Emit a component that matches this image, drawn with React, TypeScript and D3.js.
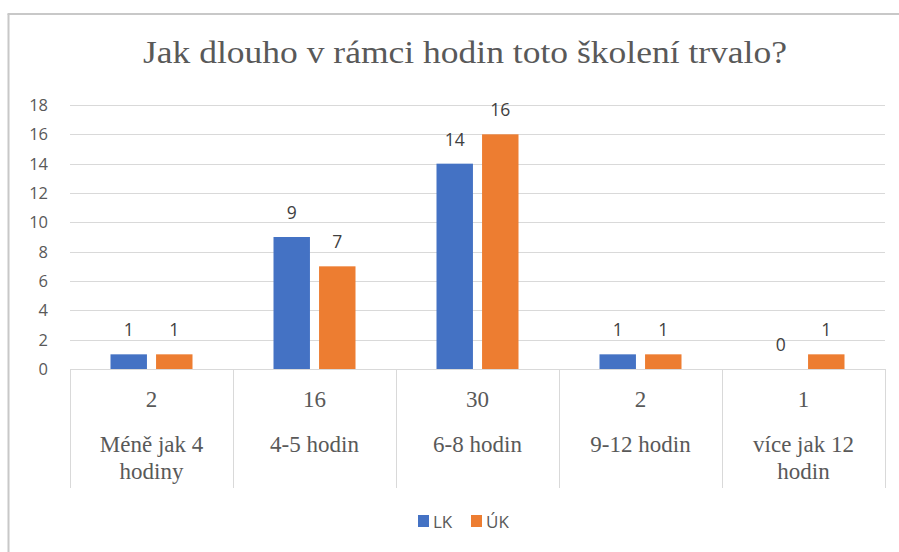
import React from "react";
import * as d3 from "d3";

const title = "Jak dlouho v rámci hodin toto školení trvalo?";
const categories = ["Méně jak 4 hodiny", "4-5 hodin", "6-8 hodin", "9-12 hodin", "více jak 12 hodin"];
const categoryLines = [["Méně jak 4", "hodiny"], ["4-5 hodin"], ["6-8 hodin"], ["9-12 hodin"], ["více jak 12", "hodin"]];
const totals = [2, 16, 30, 2, 1];
const seriesNames = ["LK", "ÚK"];
const lkValues = [1, 9, 14, 1, 0];
const ukValues = [1, 7, 16, 1, 1];
const yTicks = [0, 2, 4, 6, 8, 10, 12, 14, 16, 18];
const colors = ["#4472C4", "#ED7D31"];

const W = 899;
const H = 552;
const left = 70;
const right = 885;
const top = 105;
const bottom = 369;
const tableBottom = 488;
const sans = "'Open Sans', Lato, sans-serif";
const serif = "'Liberation Serif', 'Times New Roman', serif";

export default function App() {
  const x = d3.scaleBand<string>().domain(categories).range([left, right]).padding(0);
  const y = d3.scaleLinear().domain([0, 18]).range([bottom, top]);
  const xs = d3.scaleBand<string>().domain(seriesNames).range([-41, 41]).paddingInner(0.2);
  const seriesValues = [lkValues, ukValues];
  const grid = "#d9d9d9";
  const text = "#595959";

  return (
    <svg width={W} height={H} style={{ position: "absolute", left: 0, top: 0, background: "#fff" }}>
      <line x1={8.5} y1={14} x2={8.5} y2={H} stroke="#c8c8c8" strokeWidth={2} />
      <line x1={7.5} y1={14} x2={W} y2={14} stroke="#c8c8c8" strokeWidth={2} />
      <text x={143} y={63} fontFamily={serif} fontSize={31} fill={text} textLength={644} lengthAdjust="spacingAndGlyphs">{title}</text>
      {yTicks.map((t) => (
        <g key={t}>
          <line x1={left} x2={right} y1={Math.round(y(t)) + 0.5} y2={Math.round(y(t)) + 0.5} stroke={grid} strokeWidth={1} />
          <text x={48} y={y(t) + 6} textAnchor="end" fontFamily={sans} fontSize={16.5} fill={text}>{t}</text>
        </g>
      ))}
      {categories.map((c, i) => (
        <line key={"v" + i} x1={Math.round(x(c)!) + 0.5} x2={Math.round(x(c)!) + 0.5} y1={bottom} y2={tableBottom} stroke={grid} />
      ))}
      <line x1={right + 0.5} x2={right + 0.5} y1={bottom} y2={tableBottom} stroke={grid} />
      {categories.map((c, i) => {
        const cx = x(c)! + x.bandwidth() / 2;
        return (
          <g key={"c" + i}>
            {seriesNames.map((s, j) => {
              const v = seriesValues[j][i];
              const bx = cx + xs(s)!;
              return (
                <g key={s}>
                  {v > 0 && <rect x={bx} y={y(v)} width={xs.bandwidth()} height={y(0) - y(v)} fill={colors[j]} />}
                  <text x={bx + xs.bandwidth() / 2} y={y(v) - 18} textAnchor="middle" fontFamily={sans} fontSize={17.5} fill="#404040">{v}</text>
                </g>
              );
            })}
            <text x={cx} y={407} textAnchor="middle" fontFamily={serif} fontSize={23} fill={text}>{totals[i]}</text>
            {categoryLines[i].map((ln, k) => (
              <text key={k} x={cx} y={452 + k * 27} textAnchor="middle" fontFamily={serif} fontSize={23} fill={text}>{ln}</text>
            ))}
          </g>
        );
      })}
      {seriesNames.map((s, j) => (
        <g key={"l" + s} transform={`translate(${418 + j * 53},515)`}>
          <rect x={0} y={0} width={11} height={12} fill={colors[j]} />
          <text x={15} y={13} fontFamily={sans} fontSize={17} fill={text}>{s}</text>
        </g>
      ))}
    </svg>
  );
}
